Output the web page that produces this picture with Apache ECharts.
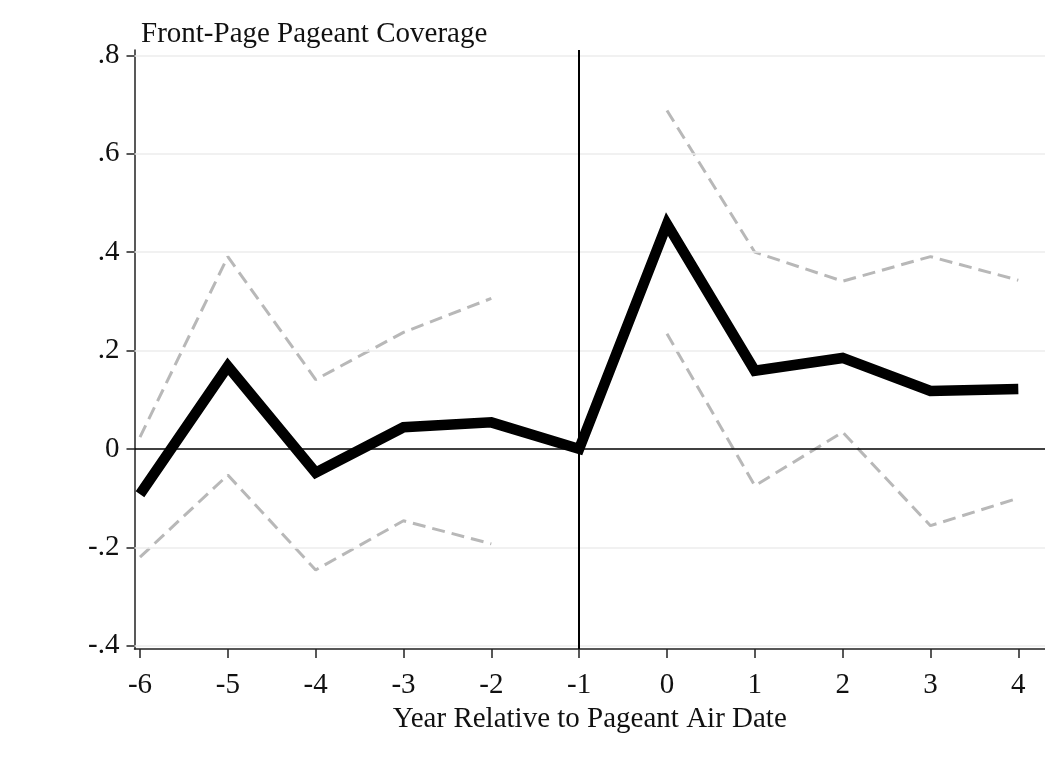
<!DOCTYPE html>
<html>
<head>
<meta charset="utf-8">
<script src="https://cdn.jsdelivr.net/npm/echarts@6/dist/echarts.min.js"></script>
<style>
  html, body { margin: 0; padding: 0; background: #fff; }
  #chart { width: 1045px; height: 766px; }
</style>
</head>
<body>
<div id="chart"></div>
<script>
// Event-study estimates of front-page pageant coverage, by year relative to air date
const years = [-6, -5, -4, -3, -2, -1, 0, 1, 2, 3, 4];
const estimate = [-0.092, 0.168, -0.048, 0.044, 0.054, 0, 0.457, 0.159, 0.185, 0.118, 0.122];
// 95% confidence bounds; the omitted reference year (-1) has none
const upperCI = [0.024, 0.391, 0.141, 0.237, 0.306, null, 0.688, 0.400, 0.341, 0.391, 0.343];
const lowerCI = [-0.220, -0.053, -0.246, -0.146, -0.193, null, 0.234, -0.075, 0.034, -0.156, -0.100];
const yTicks = [-0.4, -0.2, 0, 0.2, 0.4, 0.6, 0.8];
const xTicks = years;

const pair = (vals) => years.map((x, i) => [x, vals[i]]);
const fmtY = (v) => {
  if (Math.abs(v) < 1e-9) return '0';
  const s = String(Math.round(v * 10) / 10);
  return s.replace('0.', '.');
};

const serif = 'Liberation Serif';
const textSize = 29;
const chart = echarts.init(document.getElementById('chart'));
chart.setOption({
  animation: false,
  backgroundColor: '#ffffff',
  title: {
    text: 'Front-Page Pageant Coverage',
    left: 136, top: 15,
    textStyle: { fontFamily: serif, fontSize: textSize, fontWeight: 'normal', color: '#111' }
  },
  grid: { left: 134.5, right: 0, top: 50, bottom: 117 },
  xAxis: {
    type: 'value', min: -6.0625, max: 4.304,
    name: 'Year Relative to Pageant Air Date',
    nameLocation: 'middle', nameGap: 52,
    nameTextStyle: { fontFamily: serif, fontSize: textSize, color: '#111' },
    axisLine: { show: true, onZero: false, lineStyle: { color: '#222', width: 1.5 } },
    axisTick: { show: true, length: 9, customValues: xTicks, lineStyle: { color: '#222', width: 1.5 } },
    axisLabel: { customValues: xTicks, margin: 22, fontFamily: serif, fontSize: textSize, color: '#111',
                 formatter: (v) => String(v) },
    splitLine: { show: false }
  },
  yAxis: {
    type: 'value', min: -0.4067, max: 0.811,
    axisLine: { show: true, onZero: false, lineStyle: { color: '#222', width: 1.5 } },
    axisTick: { show: true, length: 8, customValues: yTicks, lineStyle: { color: '#222', width: 1.5 } },
    axisLabel: { customValues: yTicks, margin: 15, fontFamily: serif, fontSize: textSize, color: '#111',
                 formatter: fmtY },
    splitLine: { show: false }
  },
  series: [
    {
      // horizontal grid lines at each y tick, plus reference lines at 0 and year -1
      type: 'line', data: [], silent: true,
      markLine: {
        silent: true, symbol: 'none', label: { show: false },
        data: yTicks.filter(v => v !== 0).map(v => ({ yAxis: v, lineStyle: { color: '#ececec', width: 1.5, type: 'solid' } }))
          .concat([
            { yAxis: 0, lineStyle: { color: '#000', width: 1.5, type: 'solid' } },
            { xAxis: -1, lineStyle: { color: '#000', width: 2, type: 'solid' } }
          ])
      }
    },
    {
      name: 'Upper', type: 'line', data: pair(upperCI), symbol: 'none', connectNulls: false,
      lineStyle: { color: '#b8b8b8', width: 3, type: [13, 7] }
    },
    {
      name: 'Lower', type: 'line', data: pair(lowerCI), symbol: 'none', connectNulls: false,
      lineStyle: { color: '#b8b8b8', width: 3, type: [13, 7] }
    },
    {
      name: 'Estimate', type: 'line', data: pair(estimate), symbol: 'none',
      lineStyle: { color: '#000', width: 10.5, join: 'miter', cap: 'butt' }, z: 5
    }
  ]
});
</script>
</body>
</html>
